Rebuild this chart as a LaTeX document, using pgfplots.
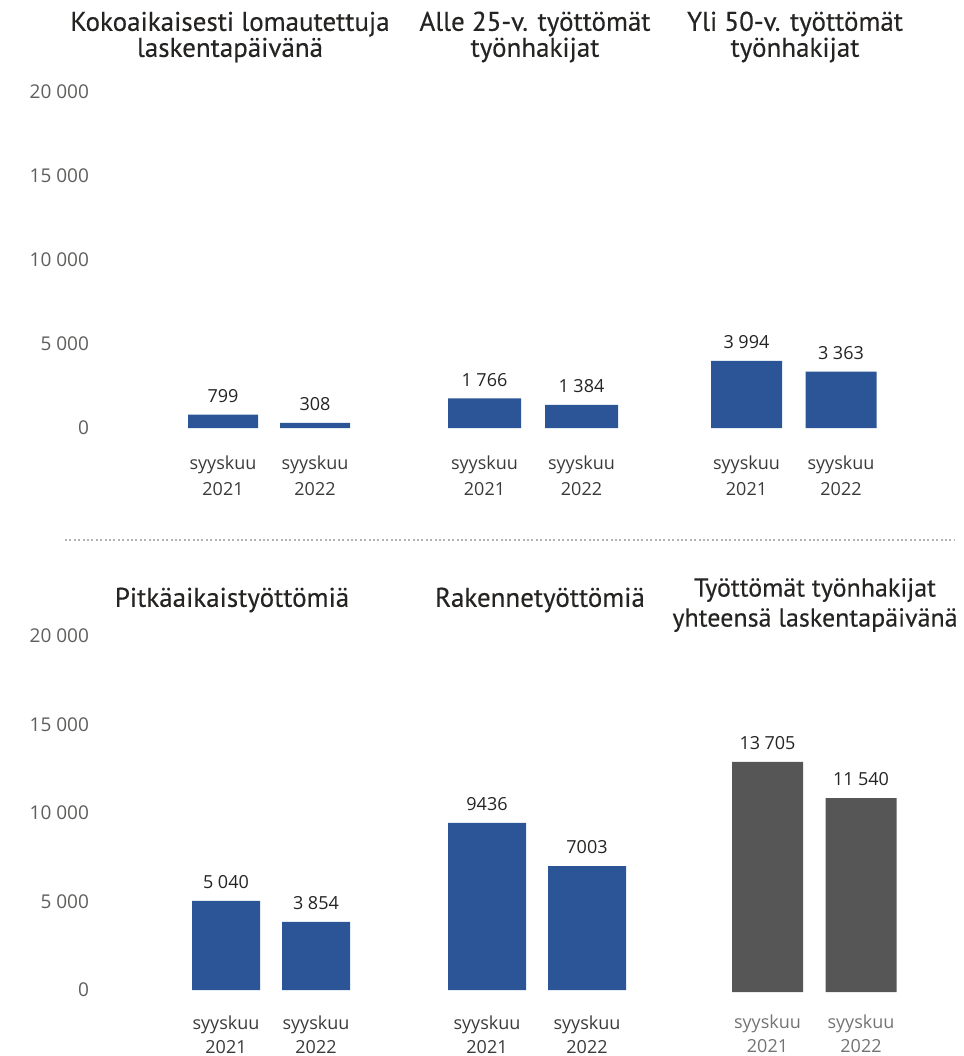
\documentclass[border=0pt]{standalone}
\usepackage{pgfplots}
\pgfplotsset{compat=1.18}
\usepackage{fontspec}
\setmainfont{Open Sans}
\newfontfamily\titlefont[FakeBold=0.3]{PT Sans}
\definecolor{barblue}{HTML}{2B5597}
\definecolor{bargray}{HTML}{565656}
\definecolor{ticktxt}{HTML}{605E5C}
\definecolor{valtxt}{HTML}{252423}
\definecolor{cattxt}{HTML}{3A3A3A}

\pgfplotsset{
  pnl/.style={
    scale only axis,
    anchor=south west,
    clip=false,
    xmin=-0.5, xmax=1.5, ymin=0, ymax=20000,
    axis line style={draw=none},
    tick style={draw=none},
    ytick=\empty,
    xtick={0,1},
    xticklabels={{syyskuu\\2021},{syyskuu\\2022}},
    xticklabel style={align=center, font=\fontsize{9}{13}\selectfont, text=cattxt, yshift=-6pt},
    ybar, bar shift=0pt,
    nodes near coords,
    every node near coord/.append style={font=\fontsize{9}{10}\selectfont, text=valtxt, yshift=2.5pt},
    /pgf/number format/assume math mode=true,
    /pgf/number format/1000 sep={\hspace{0.25em}},
  },
  yax/.style={
    scale only axis,
    anchor=south west,
    width=1pt,
    xmin=0, xmax=1, ymin=0, ymax=20000,
    scaled y ticks=false,
    axis line style={draw=none},
    tick style={draw=none},
    xtick=\empty,
    ytick={0,5000,10000,15000,20000},
    yticklabels={0,5 000,10 000,15 000,20 000},
    yticklabel style={font=\fontsize{9.5}{10}\selectfont, text=ticktxt, anchor=east},
  },
}

\begin{document}
\begin{tikzpicture}[x=0.5pt, y=-0.5pt]
\tikzset{ttl/.style={align=center, text=valtxt, font=\titlefont\fontsize{13.5}{13}\selectfont}}

% titles
\node[ttl] at (230,37) {Kokoaikaisesti lomautettuja\\laskentapäivänä};
\node[ttl] at (535,37) {Alle 25-v. työttömät\\työnhakijat};
\node[ttl] at (795,37) {Yli 50-v. työttömät\\työnhakijat};
\node[ttl] at (232,600) {Pitkäaikaistyöttömiä};
\node[ttl] at (540,600) {Rakennetyöttömiä};
\node[ttl, font=\titlefont\fontsize{13}{15}\selectfont] at (815,605) {Työttömät työnhakijat\\yhteensä laskentapäivänä};

% separator
\draw[color=black!30, line width=0.8pt, dash pattern=on 1pt off 1.2pt] (65,540) -- (955,540);

% y axes
\begin{axis}[yax, at={(96*0.5pt,-428*0.5pt)}, height=168pt]
\end{axis}
\begin{axis}[yax, at={(96*0.5pt,-990*0.5pt)}, height=177pt]
\end{axis}

% top row
\begin{axis}[pnl, at={(177*0.5pt,-428*0.5pt)}, width=92pt, height=168pt, bar width=35pt]
\addplot[fill=barblue, draw=none] coordinates {(0,799) (1,308)};
\end{axis}
\begin{axis}[pnl, at={(436*0.5pt,-428*0.5pt)}, width=97pt, height=168pt, bar width=36.5pt]
\addplot[fill=barblue, draw=none] coordinates {(0,1766) (1,1384)};
\end{axis}
\begin{axis}[pnl, at={(699.25*0.5pt,-428*0.5pt)}, width=94.5pt, height=168pt, bar width=35.5pt]
\addplot[fill=barblue, draw=none] coordinates {(0,3994) (1,3363)};
\end{axis}

% bottom row
\begin{axis}[pnl, at={(181*0.5pt,-990*0.5pt)}, width=90pt, height=177pt, bar width=34pt,
  xticklabel style={font=\fontsize{9}{12}\selectfont, yshift=1pt}]
\addplot[fill=barblue, draw=none] coordinates {(0,5040) (1,3854)};
\end{axis}
\begin{axis}[pnl, at={(437*0.5pt,-990*0.5pt)}, width=100pt, height=177pt, bar width=39pt,
  xticklabel style={font=\fontsize{9}{12}\selectfont, yshift=1pt},
  /pgf/number format/1000 sep={}]
\addplot[fill=barblue, draw=none] coordinates {(0,9436) (1,7003)};
\end{axis}
\begin{axis}[pnl, at={(720.75*0.5pt,-992*0.5pt)}, width=93.5pt, height=168pt, bar width=35.5pt,
  xticklabel style={font=\fontsize{9}{12}\selectfont, yshift=2.5pt, text=black!55}]
\addplot[fill=bargray, draw=none] coordinates {(0,13705) (1,11540)};
\end{axis}

\pgfresetboundingbox
\path[use as bounding box] (0,0) rectangle (964,1056);
\end{tikzpicture}
\end{document}
